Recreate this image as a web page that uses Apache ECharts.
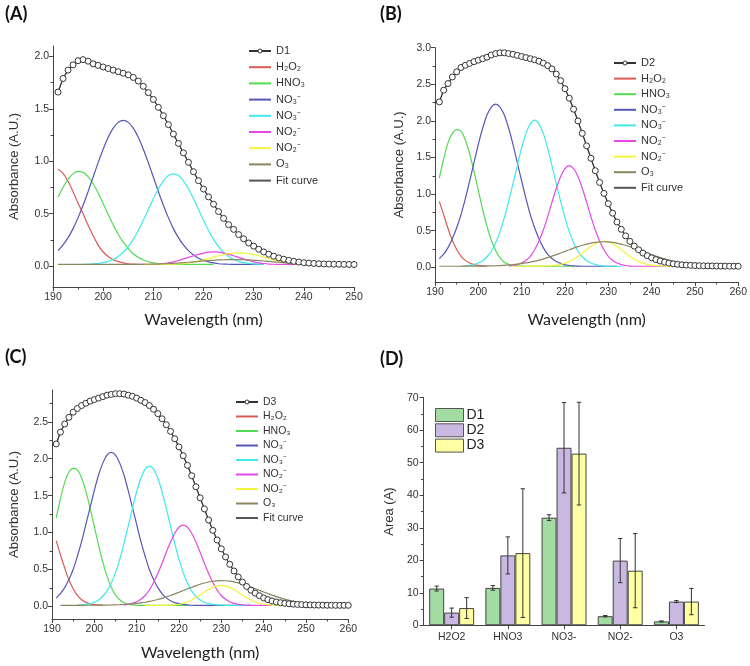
<!DOCTYPE html>
<html>
<head>
<meta charset="utf-8">
<script src="https://cdn.jsdelivr.net/npm/echarts@6/dist/echarts.min.js"></script>
<style>
  html, body { margin: 0; padding: 0; background: #fff; }
  #wrap { position: relative; width: 750px; height: 666px; }
  .panel { position: absolute; width: 375px; height: 333px; }
</style>
</head>
<body>
<div id="wrap">
  <div id="pA" class="panel" style="left:0;top:0"></div>
  <div id="pB" class="panel" style="left:375px;top:0"></div>
  <div id="pC" class="panel" style="left:0;top:333px"></div>
  <div id="pD" class="panel" style="left:375px;top:333px"></div>
</div>
<script>
// ---- panel A (D1) : absorbance, 1 nm steps ----
const A_D1 = { from: 191, y: [
  1.66, 1.79, 1.87, 1.92, 1.96, 1.97, 1.955, 1.93, 1.915, 1.90,
  1.885, 1.87, 1.855, 1.84, 1.825, 1.80, 1.765, 1.715, 1.655, 1.59,
  1.515, 1.435, 1.35, 1.26, 1.17, 1.08, 0.99, 0.90, 0.815, 0.735,
  0.66, 0.59, 0.52, 0.455, 0.395, 0.35, 0.30, 0.26, 0.22, 0.19,
  0.16, 0.135, 0.113, 0.094, 0.078, 0.065, 0.054, 0.045, 0.038, 0.032,
  0.028, 0.025, 0.022, 0.02, 0.019, 0.018, 0.017, 0.016, 0.015, 0.015] }
const A_H2O2 = { from: 191, y: [0.925, 0.884, 0.809, 0.709, 0.60, 0.50, 0.39, 0.29, 0.20, 0.134,
  0.091, 0.061, 0.042, 0.03, 0.022, 0.018, 0.016] }
const A_HNO3 = { from: 191, y: [0.657, 0.752, 0.828, 0.882, 0.904, 0.894, 0.853, 0.785, 0.697, 0.596,
  0.493, 0.393, 0.304, 0.228, 0.166, 0.118, 0.083, 0.058, 0.041, 0.031,
  0.024, 0.019, 0.017, 0.016, 0.015, 0.015, 0.015, 0.015, 0.015, 0.015, 0.015, 0.015] }
const A_NO3a = { from: 191, y: [0.147, 0.201, 0.271, 0.357, 0.462, 0.58, 0.711, 0.85, 0.987, 1.115,
  1.229, 1.316, 1.371, 1.39, 1.371, 1.316, 1.229, 1.115, 0.987, 0.85,
  0.711, 0.58, 0.462, 0.357, 0.271, 0.201, 0.147, 0.106, 0.075, 0.055,
  0.04, 0.03, 0.022, 0.019, 0.017, 0.016, 0.015, 0.015, 0.015, 0.015, 0.015, 0.015] }
const A_NO3b = { from: 196, y: [0.016, 0.017, 0.02, 0.025, 0.032, 0.044, 0.063, 0.092, 0.132, 0.186,
  0.255, 0.339, 0.436, 0.54, 0.643, 0.737, 0.813, 0.863, 0.88, 0.863,
  0.813, 0.737, 0.643, 0.54, 0.436, 0.339, 0.255, 0.186, 0.132, 0.092,
  0.063, 0.044, 0.032, 0.025, 0.02, 0.017, 0.016] }
const A_NO2a = { from: 207, y: [0.015, 0.015, 0.016, 0.017, 0.019, 0.024, 0.031, 0.04, 0.053, 0.068,
  0.083, 0.098, 0.112, 0.124, 0.132, 0.135, 0.132, 0.124, 0.112, 0.098,
  0.083, 0.068, 0.053, 0.04, 0.031, 0.024, 0.019, 0.017, 0.016, 0.015, 0.015, 0.015, 0.015, 0.015] }
const A_NO2b = { from: 208, y: [0.015, 0.015, 0.015, 0.015, 0.016, 0.016, 0.018, 0.02, 0.024, 0.029,
  0.037, 0.046, 0.058, 0.071, 0.085, 0.098, 0.109, 0.118, 0.123, 0.125,
  0.123, 0.118, 0.109, 0.098, 0.085, 0.071, 0.058, 0.046, 0.037, 0.029,
  0.024, 0.02, 0.018, 0.016, 0.016, 0.015, 0.015, 0.015, 0.015] }
const A_O3 = { from: 191, y: [0.015, 0.015, 0.015, 0.015, 0.015, 0.015, 0.015, 0.015, 0.015, 0.015,
  0.015, 0.015, 0.015, 0.015, 0.015, 0.016, 0.016, 0.017, 0.017, 0.018,
  0.019, 0.021, 0.023, 0.026, 0.029, 0.032, 0.036, 0.039, 0.044, 0.048,
  0.052, 0.055, 0.058, 0.060, 0.061, 0.062, 0.061, 0.060, 0.058, 0.055,
  0.052, 0.048, 0.044, 0.039, 0.036, 0.032, 0.029, 0.026, 0.023, 0.021,
  0.019, 0.018, 0.017, 0.017, 0.016, 0.016, 0.015, 0.015, 0.015, 0.015] }

// ---- panel B (D2) ----
const B_D2 = { from: 191, y: [
  2.26, 2.42, 2.51, 2.60, 2.67, 2.73, 2.76, 2.785, 2.81, 2.83,
  2.85, 2.87, 2.90, 2.92, 2.93, 2.93, 2.92, 2.91, 2.895, 2.88,
  2.865, 2.85, 2.835, 2.815, 2.79, 2.755, 2.71, 2.64, 2.55, 2.44,
  2.31, 2.16, 2.0, 1.83, 1.66, 1.49, 1.32, 1.16, 1.01, 0.87,
  0.74, 0.62, 0.52, 0.43, 0.355, 0.29, 0.24, 0.195, 0.16, 0.13,
  0.106, 0.087, 0.071, 0.058, 0.048, 0.041, 0.035, 0.031, 0.028, 0.025,
  0.023, 0.021, 0.02, 0.019, 0.018, 0.017, 0.017, 0.016, 0.016, 0.015] }
const B_H2O2 = { from: 191, y: [0.90, 0.72, 0.53, 0.37, 0.245, 0.155, 0.095, 0.06, 0.038, 0.026, 0.019, 0.016] }
const B_HNO3 = { from: 191, y: [1.22, 1.48, 1.70, 1.83, 1.88, 1.86, 1.74, 1.55, 1.31, 1.05,
  0.79, 0.56, 0.37, 0.23, 0.13, 0.07, 0.04, 0.025, 0.02, 0.016,
  0.015, 0.015, 0.015, 0.015, 0.015, 0.015, 0.015, 0.015, 0.015, 0.015, 0.015, 0.015] }
const B_NO3a = { from: 191, y: [0.12, 0.18, 0.27, 0.39, 0.54, 0.72, 0.94, 1.18, 1.43, 1.68,
  1.90, 2.08, 2.19, 2.23, 2.19, 2.08, 1.90, 1.68, 1.43, 1.18,
  0.94, 0.72, 0.54, 0.39, 0.27, 0.18, 0.12, 0.08, 0.055, 0.035,
  0.025, 0.02, 0.016, 0.015, 0.015, 0.015, 0.015, 0.015, 0.015, 0.015, 0.015, 0.015] }
const B_NO3b = { from: 196, y: [0.015, 0.018, 0.025, 0.04, 0.06, 0.09, 0.145, 0.22, 0.335, 0.485,
  0.675, 0.90, 1.14, 1.39, 1.63, 1.83, 1.96, 2.01, 1.96, 1.83,
  1.63, 1.39, 1.14, 0.90, 0.675, 0.485, 0.335, 0.22, 0.145, 0.09,
  0.06, 0.04, 0.025, 0.018, 0.015, 0.015, 0.015, 0.015] }
const B_NO2a = { from: 207, y: [0.018, 0.025, 0.038, 0.06, 0.095, 0.15, 0.24, 0.36, 0.51, 0.69,
  0.89, 1.08, 1.24, 1.35, 1.39, 1.35, 1.24, 1.08, 0.89, 0.69,
  0.51, 0.36, 0.24, 0.15, 0.095, 0.06, 0.038, 0.025, 0.018,
  0.015, 0.015, 0.015, 0.015, 0.015, 0.015, 0.015, 0.015] }
const B_NO2b = { from: 208, y: [0.015, 0.015, 0.015, 0.015, 0.016, 0.016, 0.017, 0.018, 0.019, 0.023,
  0.03, 0.041, 0.057, 0.08, 0.111, 0.149, 0.193, 0.24, 0.284, 0.322,
  0.346, 0.355, 0.346, 0.322, 0.284, 0.24, 0.193, 0.149, 0.111, 0.08,
  0.057, 0.041, 0.03, 0.023, 0.019, 0.018, 0.017, 0.016, 0.016, 0.015, 0.015] }
const B_O3 = { from: 191, y: [0.015, 0.015, 0.015, 0.015, 0.015, 0.015, 0.016, 0.016, 0.016, 0.017,
  0.018, 0.019, 0.020, 0.022, 0.025, 0.028, 0.032, 0.037, 0.043, 0.051,
  0.06, 0.071, 0.084, 0.098, 0.115, 0.133, 0.153, 0.174, 0.196, 0.218,
  0.241, 0.263, 0.283, 0.302, 0.318, 0.332, 0.342, 0.348, 0.35, 0.348,
  0.342, 0.332, 0.318, 0.302, 0.283, 0.263, 0.241, 0.218, 0.196, 0.174,
  0.153, 0.133, 0.115, 0.098, 0.084, 0.071, 0.06, 0.051, 0.043, 0.037,
  0.032, 0.028, 0.025, 0.022, 0.02, 0.019, 0.018, 0.017, 0.016] }

// ---- panel C (D3) ----
const C_D3 = { from: 191, y: [
  2.20, 2.36, 2.47, 2.56, 2.63, 2.68, 2.72, 2.75, 2.78, 2.80,
  2.82, 2.84, 2.86, 2.87, 2.88, 2.88, 2.875, 2.86, 2.845, 2.82,
  2.79, 2.76, 2.72, 2.67, 2.61, 2.54, 2.46, 2.37, 2.27, 2.16,
  2.04, 1.91, 1.77, 1.62, 1.47, 1.32, 1.17, 1.03, 0.90, 0.78,
  0.67, 0.57, 0.48, 0.40, 0.33, 0.27, 0.22, 0.18, 0.145, 0.115,
  0.092, 0.074, 0.06, 0.05, 0.042, 0.036, 0.031, 0.027, 0.024, 0.022,
  0.02, 0.019, 0.018, 0.017, 0.016, 0.016, 0.015, 0.015, 0.015, 0.015] }
const C_H2O2 = { from: 191, y: [0.89, 0.70, 0.52, 0.36, 0.24, 0.15, 0.09, 0.055, 0.035, 0.025, 0.018, 0.015] }
const C_HNO3 = { from: 191, y: [1.20, 1.46, 1.68, 1.82, 1.87, 1.85, 1.74, 1.56, 1.33, 1.08,
  0.83, 0.60, 0.41, 0.26, 0.155, 0.09, 0.05, 0.03, 0.02, 0.015,
  0.015, 0.015, 0.015, 0.015, 0.015, 0.015, 0.015, 0.015, 0.015, 0.015, 0.015, 0.015] }
const C_NO3a = { from: 191, y: [0.116, 0.175, 0.255, 0.365, 0.50, 0.68, 0.88, 1.11, 1.34, 1.57,
  1.78, 1.94, 2.05, 2.085, 2.05, 1.94, 1.78, 1.57, 1.34, 1.11,
  0.88, 0.68, 0.50, 0.365, 0.255, 0.175, 0.116, 0.077, 0.052, 0.037,
  0.027, 0.02, 0.016, 0.015, 0.015, 0.015, 0.015, 0.015, 0.015, 0.015,
  0.015, 0.015, 0.015, 0.015, 0.015, 0.015, 0.015] }
const C_NO3b = { from: 196, y: [0.018, 0.02, 0.027, 0.038, 0.056, 0.087, 0.138, 0.211, 0.317, 0.458,
  0.637, 0.85, 1.086, 1.327, 1.553, 1.736, 1.86, 1.90, 1.86, 1.736,
  1.553, 1.327, 1.086, 0.85, 0.637, 0.458, 0.317, 0.211, 0.138, 0.087,
  0.056, 0.038, 0.027, 0.02, 0.018, 0.015, 0.015, 0.015, 0.015, 0.015, 0.015, 0.015] }
const C_NO2a = { from: 207, y: [0.022, 0.029, 0.041, 0.063, 0.097, 0.148, 0.223, 0.325, 0.445, 0.584,
  0.733, 0.872, 0.991, 1.072, 1.10, 1.072, 0.991, 0.872, 0.733, 0.584,
  0.445, 0.325, 0.223, 0.148, 0.097, 0.063, 0.041, 0.029, 0.022,
  0.015, 0.015, 0.015, 0.015, 0.015, 0.015, 0.015] }
const C_NO2b = { from: 212, y: [0.015, 0.015, 0.015, 0.015, 0.015, 0.015,
  0.018, 0.022, 0.03, 0.043, 0.062, 0.088, 0.12, 0.155, 0.192, 0.228,
  0.258, 0.278, 0.285, 0.278, 0.258, 0.228, 0.192, 0.155, 0.12, 0.088,
  0.062, 0.043, 0.03, 0.022, 0.018,
  0.015, 0.015, 0.015, 0.015, 0.015, 0.015, 0.015, 0.015] }
const C_O3 = { from: 192, y: [0.015, 0.015, 0.015, 0.015, 0.015, 0.015, 0.016, 0.016, 0.016, 0.017,
  0.018, 0.019, 0.020, 0.022, 0.024, 0.027, 0.031, 0.035, 0.041, 0.048,
  0.057, 0.068, 0.080, 0.094, 0.110, 0.128, 0.148, 0.170, 0.192, 0.215,
  0.238, 0.26, 0.281, 0.30, 0.317, 0.331, 0.341, 0.347, 0.35, 0.348,
  0.342, 0.332, 0.318, 0.302, 0.283, 0.263, 0.241, 0.218, 0.196, 0.174,
  0.153, 0.133, 0.115, 0.098, 0.084, 0.071, 0.06, 0.051, 0.043, 0.037,
  0.032, 0.028, 0.025, 0.022, 0.02, 0.019, 0.018, 0.017, 0.016] }

const A_Y_TICKS = [0, 0.5, 1.0, 1.5, 2.0]
const B_Y_TICKS = [0, 0.5, 1.0, 1.5, 2.0, 2.5, 3.0]
const C_Y_TICKS = [0, 0.5, 1.0, 1.5, 2.0, 2.5]

// ---- panel D : fitted peak areas ----
const D_CATEGORIES = ['H2O2', 'HNO3', 'NO3-', 'NO2-', 'O3']
const D1_AREA = [11.3, 11.5, 33.1, 2.8, 1.2]
const D1_ERR = [0.75, 0.7, 0.9, 0.2, 0.15]
const D2_AREA = [3.9, 21.5, 54.6, 19.9, 7.3]
const D2_ERR = [1.4, 5.7, 13.9, 6.8, 0.3]
const D3_AREA = [5.3, 22.2, 52.8, 16.8, 7.3]
const D3_ERR = [3.2, 19.8, 15.8, 11.4, 4.05]

const FONT = '"Liberation Sans", Arial, sans-serif'
const AXIS_COLOR = '#444'
const TEXT_COLOR = '#333'

const COMPONENT_KEYS = ['H2O2', 'HNO3', 'NO3a', 'NO3b', 'NO2a', 'NO2b', 'O3']
const COMPONENT_COLORS = {
  H2O2: '#dc5a55',
  HNO3: '#52dc52',
  NO3a: '#5656b8',
  NO3b: '#3fe9ec',
  NO2a: '#e449e4',
  NO2b: '#f3f33c',
  O3: '#8a8660',
}
const LEGEND_LABELS = {
  H2O2: 'H₂O₂', HNO3: 'HNO₃', NO3a: 'NO₃⁻', NO3b: 'NO₃⁻',
  NO2a: 'NO₂⁻', NO2b: 'NO₂⁻', O3: 'O₃', Fit: 'Fit curve',
}

function toPairs(curve) {
  return curve.y.map((v, i) => [curve.from + i, v])
}

function panelTitle(text, top) {
  return {
    text,
    left: 0,
    top,
    textStyle: { fontFamily: 'Lato, "Open Sans", sans-serif', fontWeight: 'bold', fontSize: 18, color: '#111' },
  }
}

function spectrumOption(cfg) {
  const compSeries = COMPONENT_KEYS.map((key) => ({
    type: 'line',
    name: key,
    data: toPairs(cfg.comps[key]),
    symbol: 'none',
    smooth: 0.3,
    color: COMPONENT_COLORS[key],
    lineStyle: { color: COMPONENT_COLORS[key], width: 1.2 },
    z: 2,
  }))
  // line-only legend entries: hide the marker that ECharts adds to line icons
  const lineOnly = (name) => ({ name, itemStyle: { opacity: 0 } })
  return {
    animation: false,
    title: panelTitle(cfg.label, cfg.labelTop),
    legend: {
      orient: 'vertical',
      left: cfg.legend.left,
      top: cfg.legend.top,
      itemWidth: 22,
      itemHeight: 5,
      itemGap: cfg.legend.gap,
      data: [
        { name: cfg.sample, itemStyle: { color: '#fff', borderColor: '#333', borderWidth: 1 } },
        ...COMPONENT_KEYS.map(lineOnly),
        lineOnly('Fit'),
      ],
      formatter: (name) => LEGEND_LABELS[name] || name,
      textStyle: { fontFamily: FONT, fontSize: cfg.legend.fontSize, color: TEXT_COLOR, lineHeight: 12 },
    },
    grid: cfg.grid,
    xAxis: {
      type: 'value',
      min: 190,
      max: cfg.xMax,
      interval: 10,
      name: 'Wavelength (nm)',
      nameLocation: 'middle',
      nameGap: cfg.xNameGap,
      nameTextStyle: { fontFamily: 'Lato, "Open Sans", sans-serif', fontSize: 16, color: '#222' },
      axisLine: { show: true, onZero: false, lineStyle: { color: AXIS_COLOR } },
      axisTick: { show: true, length: 4, lineStyle: { color: AXIS_COLOR } },
      minorTick: { show: true, splitNumber: 2, length: 2.5, lineStyle: { color: AXIS_COLOR } },
      axisLabel: { fontFamily: FONT, fontSize: 10.5, color: TEXT_COLOR, margin: 5 },
      splitLine: { show: false },
    },
    yAxis: {
      type: 'value',
      min: cfg.yMin,
      max: cfg.yMax,
      splitNumber: 5,
      name: 'Absorbance (A.U.)',
      nameLocation: 'middle',
      nameGap: cfg.yNameGap,
      nameTextStyle: { fontFamily: FONT, fontSize: 13, color: '#333' },
      axisLine: { show: true, onZero: false, lineStyle: { color: AXIS_COLOR } },
      axisTick: { show: true, length: 4, customValues: cfg.yTicks, lineStyle: { color: AXIS_COLOR } },
      minorTick: { show: true, splitNumber: 2, length: 2.5, lineStyle: { color: AXIS_COLOR } },
      axisLabel: {
        customValues: cfg.yTicks,
        fontFamily: FONT,
        fontSize: 10.5,
        color: TEXT_COLOR,
        margin: 4,
        formatter: (v) => (Math.abs(v * 2 - Math.round(v * 2)) < 1e-6 ? v.toFixed(1) : ''),
      },
      splitLine: { show: false },
    },
    series: [
      ...compSeries,
      {
        type: 'line',
        name: 'Fit',
        data: toPairs(cfg.data),
        symbol: 'none',
        color: '#555',
        lineStyle: { color: '#555', width: 1.2 },
        z: 3,
      },
      {
        type: 'line',
        name: cfg.sample,
        data: toPairs(cfg.data),
        symbol: 'circle',
        symbolSize: 6,
        showAllSymbol: true,
        color: '#333',
        itemStyle: { color: '#fff', borderColor: '#333', borderWidth: 1 },
        lineStyle: { color: '#333', width: 1 },
        z: 4,
      },
    ],
  }
}

function errorBars(values, errs, slot) {
  return {
    type: 'custom',
    name: 'err' + slot,
    silent: true,
    z: 5,
    renderItem: (params, api) => {
      const cat = api.value(0)
      const v = api.value(1)
      const e = api.value(2)
      const band = api.size([1, 0])[0]
      const bw = (band * 0.8) / 3
      const cx = api.coord([cat, 0])[0] + (slot - 1) * bw
      const top = api.coord([cat, v + e])[1]
      const bot = api.coord([cat, v - e])[1]
      const cap = 2.2
      const stroke = { stroke: '#333', lineWidth: 1 }
      return {
        type: 'group',
        children: [
          { type: 'line', shape: { x1: cx, y1: top, x2: cx, y2: bot }, style: stroke },
          { type: 'line', shape: { x1: cx - cap, y1: top, x2: cx + cap, y2: top }, style: stroke },
          { type: 'line', shape: { x1: cx - cap, y1: bot, x2: cx + cap, y2: bot }, style: stroke },
        ],
      }
    },
    data: values.map((v, i) => [i, v, errs[i]]),
  }
}

function barSeries(name, values, fill) {
  return {
    type: 'bar',
    name,
    data: values,
    barGap: '0%',
    barCategoryGap: '20%',
    color: fill,
    itemStyle: { color: fill, borderColor: '#444', borderWidth: 1 },
    z: 2,
  }
}

const areaOption = {
  animation: false,
  title: panelTitle('(D)', 12),
  legend: {
    orient: 'vertical',
    left: 55,
    top: 70,
    itemWidth: 28,
    itemHeight: 13,
    itemGap: 1.3,
    icon: 'rect',
    data: ['D1', 'D2', 'D3'],
    itemStyle: { borderColor: '#555', borderWidth: 1 },
    textStyle: { fontFamily: FONT, fontSize: 14, color: '#222', lineHeight: 13, padding: [0, 0, 0, -2] },
  },
  grid: { left: 46, top: 64.7, width: 283.5, height: 227.6 },
  xAxis: {
    type: 'category',
    data: D_CATEGORIES,
    axisLine: { show: true, lineStyle: { color: AXIS_COLOR } },
    axisTick: { show: true, alignWithLabel: true, length: 4, lineStyle: { color: AXIS_COLOR } },
    axisLabel: { fontFamily: FONT, fontSize: 10.5, color: TEXT_COLOR, margin: 6 },
  },
  yAxis: {
    type: 'value',
    min: 0,
    max: 70,
    interval: 10,
    name: 'Area (A)',
    nameLocation: 'middle',
    nameGap: 24,
    nameTextStyle: { fontFamily: FONT, fontSize: 13, color: '#333' },
    axisLine: { show: true, lineStyle: { color: AXIS_COLOR } },
    axisTick: { show: true, length: 4, lineStyle: { color: AXIS_COLOR } },
    minorTick: { show: true, splitNumber: 2, length: 2.5, lineStyle: { color: AXIS_COLOR } },
    axisLabel: { fontFamily: FONT, fontSize: 10.5, color: TEXT_COLOR, margin: 5 },
    splitLine: { show: false },
  },
  series: [
    barSeries('D1', D1_AREA, '#a3dca3'),
    barSeries('D2', D2_AREA, '#c9b9e2'),
    barSeries('D3', D3_AREA, '#ffffa3'),
    errorBars(D1_AREA, D1_ERR, 0),
    errorBars(D2_AREA, D2_ERR, 1),
    errorBars(D3_AREA, D3_ERR, 2),
  ],
}

const panels = [
  ['pA', spectrumOption({
    label: '(A)', labelTop: 0, sample: 'D1', data: A_D1,
    comps: { H2O2: A_H2O2, HNO3: A_HNO3, NO3a: A_NO3a, NO3b: A_NO3b, NO2a: A_NO2a, NO2b: A_NO2b, O3: A_O3 },
    xMax: 250, yMin: -0.2, yMax: 2.1, yTicks: A_Y_TICKS,
    grid: { left: 52, top: 46, width: 302, height: 252 },
    legend: { left: 243, top: 40, gap: 4.2, fontSize: 11 },
    xNameGap: 25, yNameGap: 32,
  })],
  ['pB', spectrumOption({
    label: '(B)', labelTop: 0, sample: 'D2', data: B_D2,
    comps: { H2O2: B_H2O2, HNO3: B_HNO3, NO3a: B_NO3a, NO3b: B_NO3b, NO2a: B_NO2a, NO2b: B_NO2b, O3: B_O3 },
    xMax: 260, yMin: -0.2, yMax: 3.0, yTicks: B_Y_TICKS,
    grid: { left: 60, top: 47.7, width: 306.7, height: 242.5 },
    legend: { left: 233, top: 52, gap: 3.6, fontSize: 11 },
    xNameGap: 30, yNameGap: 29,
  })],
  ['pC', spectrumOption({
    label: '(C)', labelTop: 10, sample: 'D3', data: C_D3,
    comps: { H2O2: C_H2O2, HNO3: C_HNO3, NO3a: C_NO3a, NO3b: C_NO3b, NO2a: C_NO2a, NO2b: C_NO2b, O3: C_O3 },
    xMax: 260, yMin: -0.17, yMax: 2.93, yTicks: C_Y_TICKS,
    grid: { left: 50.7, top: 57, width: 297.6, height: 231.7 },
    legend: { left: 230, top: 58, gap: 2.5, fontSize: 10.5 },
    xNameGap: 26, yNameGap: 31,
  })],
  ['pD', areaOption],
]

for (const [id, option] of panels) {
  const chart = echarts.init(document.getElementById(id), null, { renderer: 'canvas' })
  chart.setOption(option)
}
</script>
</body>
</html>
